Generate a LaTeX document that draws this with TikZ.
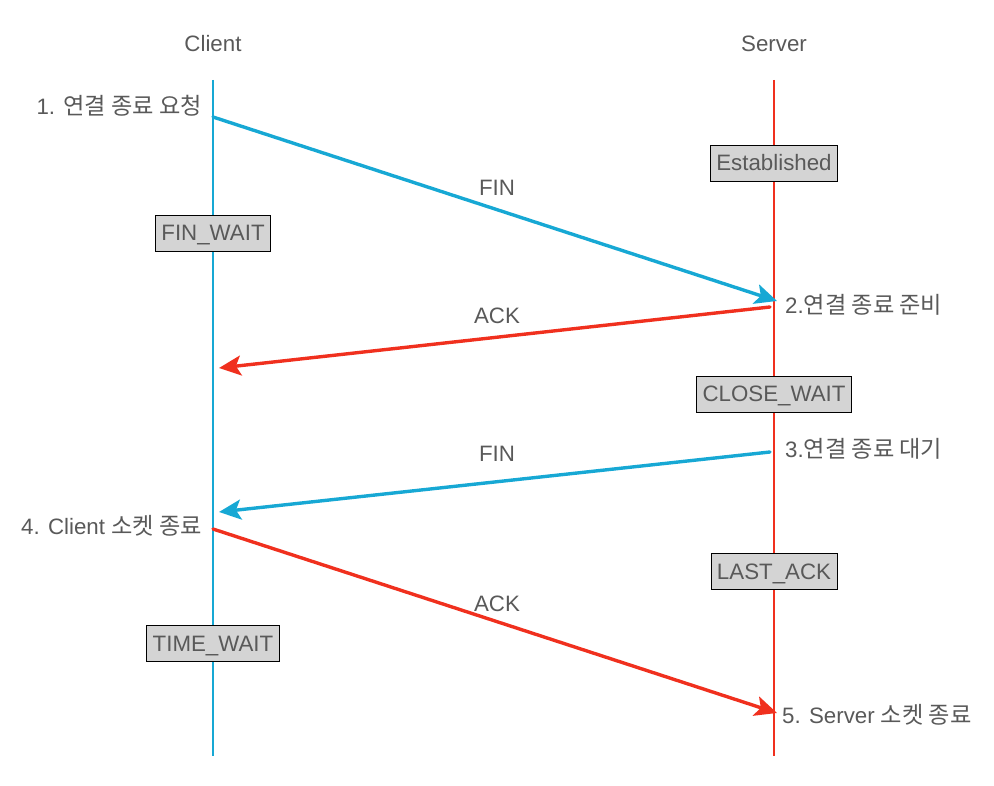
\documentclass[tikz,border=0pt]{standalone}
\usepackage{fontspec}
\setmainfont{Liberation Sans}
\newfontfamily\kr{Noto Sans CJK KR}[Scale=1.04]
\usetikzlibrary{arrows.meta}
\definecolor{txt}{HTML}{595959}
\definecolor{cblue}{HTML}{17A8D4}
\definecolor{cred}{HTML}{F0301E}
\definecolor{boxgray}{HTML}{D4D4D4}
\tikzset{
  lbl/.style={text=txt, font=\fontsize{22.3}{26}\selectfont, inner sep=0pt},
  statebox/.style={lbl, draw=black, line width=0.8pt, fill=boxgray, inner xsep=6pt, inner ysep=10pt, text height=16pt, text depth=0pt},
  life/.style={line width=1.5pt},
  msg/.style={line width=3.4pt, line cap=round, -{Stealth[length=22pt,width=20pt,inset=5pt]}},
}
\begin{document}
\begin{tikzpicture}[x=1pt,y=-1pt]
\useasboundingbox (0,0) rectangle (994,786);
% lifelines
\node[lbl] (client) at (213,44) {Client};
\node[lbl] (server) at (774,44) {Server};
\coordinate (ctop) at (213,80);
\coordinate (cbot) at (213,756);
\coordinate (stop) at (774,80);
\coordinate (sbot) at (774,756);
\draw[life, cblue] (ctop) -- (cbot);
\draw[life, cred] (stop) -- (sbot);
% state boxes
\node[statebox] (est) at (774,163) {Established};
\node[statebox] (finwait) at (213,233) {FIN\_WAIT};
\node[statebox] (closewait) at (774,394) {CLOSE\_WAIT};
\node[statebox] (lastack) at (774,571) {LAST\_ACK};
\node[statebox] (timewait) at (213,643) {TIME\_WAIT};
% side labels
\node[lbl, anchor=east] (l1) at (202,106) {1. {\kr 연결 종료 요청}};
\node[lbl, anchor=west] (l2) at (785,305) {2.{\kr 연결 종료 준비}};
\node[lbl, anchor=west] (l3) at (785,449) {3.{\kr 연결 종료 대기}};
\node[lbl, anchor=east] (l4) at (202,526) {4. Client {\kr 소켓 종료}};
\node[lbl, anchor=west] (l5) at (782,715) {5. Server {\kr 소켓 종료}};
% message labels
\node[lbl] (m1) at (497,188) {FIN};
\node[lbl] (m2) at (497,316) {ACK};
\node[lbl] (m3) at (497,454) {FIN};
\node[lbl] (m4) at (497,604) {ACK};
% arrow endpoints
\coordinate (a1s) at (213,117);
\coordinate (a1e) at (777,301);
\coordinate (a2s) at (770,307);
\coordinate (a2e) at (219,368);
\coordinate (a3s) at (770,452);
\coordinate (a3e) at (219,512);
\coordinate (a4s) at (213,529);
\coordinate (a4e) at (777,713);
\draw[msg, cblue] (a1s) -- (a1e);
\draw[msg, cred] (a2s) -- (a2e);
\draw[msg, cblue] (a3s) -- (a3e);
\draw[msg, cred] (a4s) -- (a4e);
\end{tikzpicture}
\end{document}
